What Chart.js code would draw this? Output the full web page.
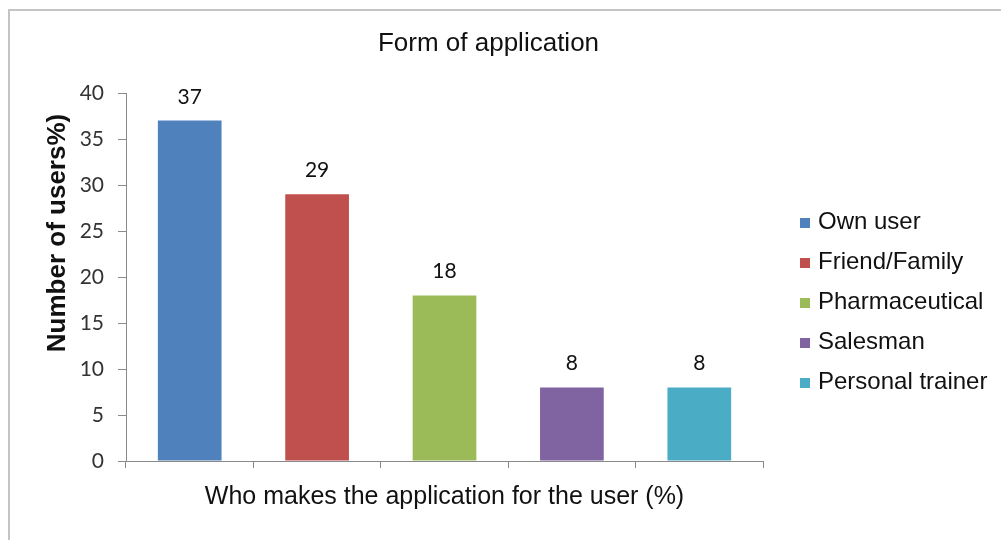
<!DOCTYPE html>
<html>
<head>
<meta charset="utf-8">
<script src="https://cdn.jsdelivr.net/npm/chart.js@4"></script>
<style>
  html, body { margin: 0; padding: 0; background: #fff; }
  #wrap { position: relative; width: 1001px; height: 540px; overflow: hidden; }
  #frame { position: absolute; left: 8px; top: 9px; width: 1100px; height: 600px;
           border-top: 2px solid #c4c4c4; border-left: 2px solid #c4c4c4; }
  canvas { position: absolute; left: 0; top: 0; }
</style>
</head>
<body>
<div id="wrap">
  <div id="frame"></div>
  <canvas id="chart" width="1001" height="540"></canvas>
</div>
<script>
const categories = ['Own user', 'Friend/Family', 'Pharmaceutical', 'Salesman', 'Personal trainer'];
const users = [37, 29, 18, 8, 8];
const barColors = ['#4f81bd', '#c0504d', '#9bbb59', '#8064a2', '#4bacc6'];
const yTicks = [0, 5, 10, 15, 20, 25, 30, 35, 40];
const chartTitle = 'Form of application';
const yTitle = 'Number of users%)';
const xTitle = 'Who makes the application for the user (%)';

// value printed above each bar
const barValues = {
  id: 'barValues',
  afterDatasetsDraw(chart) {
    const ctx = chart.ctx;
    const meta = chart.getDatasetMeta(0);
    ctx.save();
    ctx.font = '21px Lato';
    ctx.fillStyle = '#111';
    ctx.textAlign = 'center';
    ctx.textBaseline = 'alphabetic';
    meta.data.forEach((bar, i) => {
      ctx.fillText(String(users[i]), bar.x, bar.y - 17);
    });
    ctx.restore();
  }
};

// chart title and y axis title, placed off-centre like the Excel original
const headings = {
  id: 'headings',
  afterDraw(chart) {
    const {ctx, chartArea} = chart;
    const midX = (chartArea.left + chartArea.right) / 2;
    const midY = (chartArea.top + chartArea.bottom) / 2;
    ctx.save();
    ctx.fillStyle = '#111';
    ctx.textAlign = 'center';
    ctx.textBaseline = 'middle';
    ctx.font = '26px "Liberation Sans"';
    ctx.fillText(chartTitle, midX + 44, chartArea.top - 49);
    ctx.translate(chartArea.left - 68, midY - 44);
    ctx.rotate(-Math.PI / 2);
    ctx.font = 'bold 26px "Liberation Sans"';
    ctx.fillText(yTitle, 0, 0);
    ctx.restore();
  }
};

// Excel style legend: small square sitting on the text baseline
const sideLegend = {
  id: 'sideLegend',
  afterDraw(chart) {
    const {ctx, chartArea} = chart;
    const boxX = chartArea.right + 37;
    const firstBaseline = chartArea.top + 136;
    const rowStep = 40;
    ctx.save();
    ctx.font = '24px "Liberation Sans"';
    ctx.textAlign = 'left';
    ctx.textBaseline = 'alphabetic';
    categories.forEach((name, i) => {
      const base = firstBaseline + i * rowStep;
      ctx.fillStyle = barColors[i];
      ctx.fillRect(boxX, base - 11, 10, 10);
      ctx.fillStyle = '#111';
      ctx.fillText(name, boxX + 18, base);
    });
    ctx.restore();
  }
};

new Chart(document.getElementById('chart'), {
  type: 'bar',
  data: {
    labels: categories,
    datasets: [{
      data: users,
      backgroundColor: barColors,
      borderWidth: 0,
      categoryPercentage: 1,
      barPercentage: 0.5
    }]
  },
  plugins: [barValues, headings, sideLegend],
  options: {
    responsive: false,
    animation: false,
    layout: { padding: { left: 0, top: 93, right: 238, bottom: 28 } },
    plugins: {
      tooltip: { enabled: false },
      title: { display: false },
      legend: { display: false }
    },
    scales: {
      x: {
        offset: true,
        grid: { display: true, offset: true, drawOnChartArea: false, drawTicks: true,
                tickLength: 7, color: '#8a8a8a', lineWidth: 1 },
        border: { color: '#8a8a8a', width: 1 },
        ticks: { display: false },
        title: {
          display: true,
          text: xTitle,
          color: '#111',
          font: { family: 'Liberation Sans', size: 25 },
          padding: { top: 14, bottom: 0 }
        }
      },
      y: {
        min: 0,
        max: 40,
        afterBuildTicks: (scale) => { scale.ticks = yTicks.map(v => ({ value: v })); },
        afterFit: (scale) => { scale.width = 126; },
        grid: { display: true, drawOnChartArea: false, drawTicks: true, tickLength: 8,
                color: '#8a8a8a', lineWidth: 1 },
        border: { color: '#8a8a8a', width: 1 },
        ticks: { color: '#333', font: { family: 'Lato', size: 21 }, padding: 14 }
      }
    }
  }
});
</script>
</body>
</html>
